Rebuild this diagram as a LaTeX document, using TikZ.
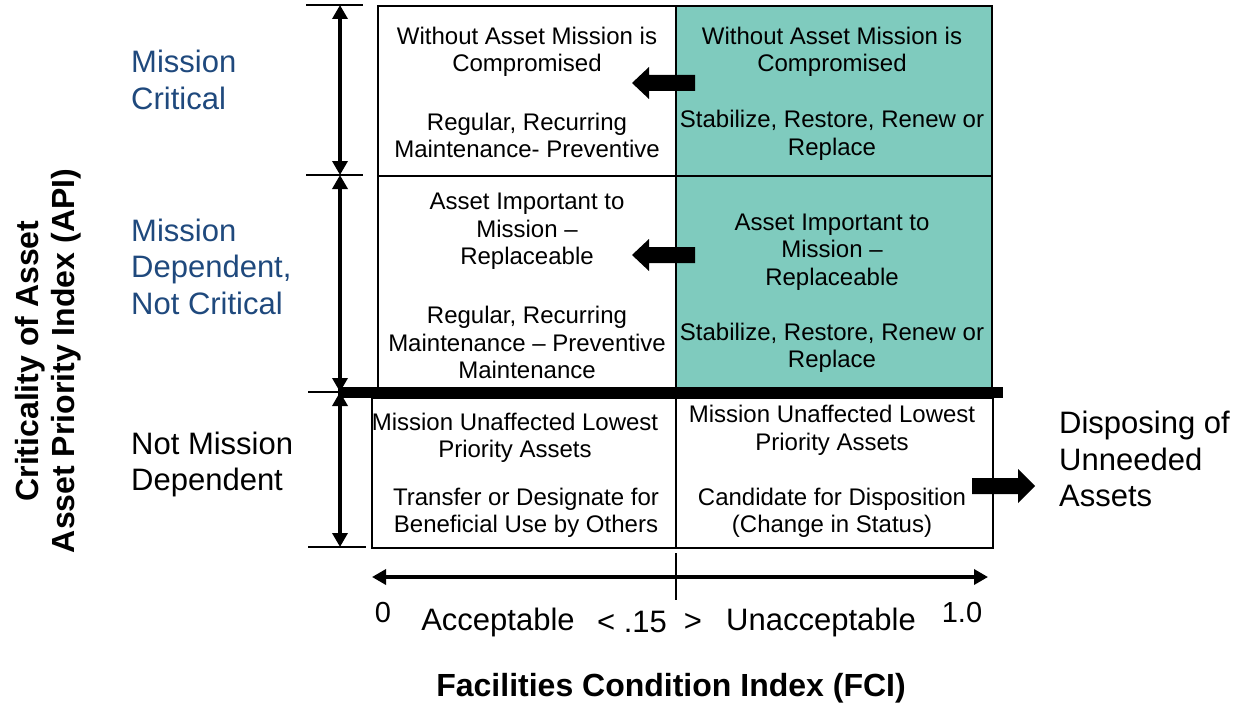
\documentclass[tikz,border=0pt]{standalone}
\usepackage{fontspec}
\setmainfont{Liberation Sans}
\usetikzlibrary{arrows.meta}
\definecolor{teal2}{RGB}{127,203,190}
\definecolor{labblue}{RGB}{31,73,125}
\begin{document}
\begin{tikzpicture}[x=1pt,y=-1pt,
  cell/.style={draw=black,line width=1.6pt,anchor=north west,inner sep=0pt},
  celltext/.style={align=center,inner sep=0pt,font=\fontsize{24}{27.5}\selectfont},
  sidelab/.style={align=left,anchor=west,inner sep=0pt,font=\fontsize{31}{36.5}\selectfont},
  axlab/.style={inner sep=0pt,font=\fontsize{31}{36}\selectfont},
  dimarrow/.style={line width=3.4pt,{Triangle[width=15pt,length=14pt]}-{Triangle[width=15pt,length=14pt]}},
  thin/.style={line width=1.3pt}]
\useasboundingbox (0,0) rectangle (1246,706);

% grid cells
\node[cell,minimum width=298,minimum height=170] (tl) at (377,5) {};
\node[cell,fill=teal2,minimum width=316,minimum height=170] (tr) at (675,5) {};
\node[cell,minimum width=298,minimum height=215] (ml) at (377,175) {};
\node[cell,fill=teal2,minimum width=316,minimum height=215] (mr) at (675,175) {};
\node[cell,minimum width=304,minimum height=150] (bl) at (371,397) {};
\node[cell,minimum width=317,minimum height=150] (br) at (675,397) {};

% heavy divider between mission dependent and not dependent
\coordinate (barL) at (338,392);
\coordinate (barR) at (1003,392);
\draw[line width=11pt] (barL) -- (barR);

% cell texts
\node[celltext] (tlA) at (527,52) {Without Asset Mission is\\Compromised};
\node[celltext] (tlB) at (527,135.5) {Regular, Recurring\\Maintenance- Preventive};
\node[celltext] (trA) at (832,52) {Without Asset Mission is\\Compromised};
\node[celltext] (trB) at (832,135.5) {Stabilize, Restore, Renew or\\Replace};
\node[celltext] (mlA) at (527,231.5) {Asset Important to\\Mission –\\Replaceable};
\node[celltext] (mlB) at (527,342.5) {Regular, Recurring\\Maintenance – Preventive\\Maintenance};
\node[celltext] (mrA) at (832,252) {Asset Important to\\Mission –\\Replaceable};
\node[celltext] (mrB) at (832,348) {Stabilize, Restore, Renew or\\Replace};
\node[celltext] (blA) at (515,438) {Mission Unaffected Lowest\\Priority Assets};
\node[celltext] (blB) at (526,513) {Transfer or Designate for\\Beneficial Use by Others};
\node[celltext] (brA) at (832,430.5) {Mission Unaffected Lowest\\Priority Assets};
\node[celltext] (brB) at (832,513) {Candidate for Disposition\\(Change in Status)};

% block arrows
\fill (695,75) -- (649,75) -- (649,67) -- (632,83) -- (649,99) -- (649,91) -- (695,91) -- cycle;
\fill (695,247) -- (649,247) -- (649,239) -- (632,255) -- (649,271) -- (649,263) -- (695,263) -- cycle;
\fill (972,478) -- (1018,478) -- (1018,469) -- (1035,486) -- (1018,503) -- (1018,494) -- (972,494) -- cycle;

% vertical dimension arrows with end ticks
\coordinate (t0) at (340,5);
\coordinate (t1) at (340,175);
\coordinate (t2) at (340,392);
\coordinate (t3) at (340,547);
\draw[thin] (306,5) -- (363,5);
\draw[thin] (306,175) -- (363,175);
\draw[thin] (308,392) -- (340,392);
\draw[thin] (308,547) -- (366,547);
\draw[dimarrow] (t0) -- (t1);
\draw[dimarrow] (t1) -- (t2);
\draw[dimarrow] (t2) -- (t3);

% horizontal FCI axis
\coordinate (a0) at (372,577);
\coordinate (a1) at (988,577);
\coordinate (m0) at (676,553);
\coordinate (m1) at (676,600);
\draw[dimarrow] (a0) -- (a1);
\draw[thin] (m0) -- (m1);

% row labels
\node[sidelab,text=labblue] (lab1) at (131,80) {Mission\\Critical};
\node[sidelab,text=labblue] (lab2) at (131,266.5) {Mission\\Dependent,\\Not Critical};
\node[sidelab] (lab3) at (131,464.5) {Not Mission\\Dependent};
\node[sidelab] (lab4) at (1059,459) {Disposing of\\Unneeded\\Assets};

% axis labels
\node[axlab,font=\fontsize{29}{32}\selectfont] (z0) at (383,613) {0};
\node[axlab,font=\fontsize{29}{32}\selectfont] (z1) at (962,613) {1.0};
\node[axlab] (acc) at (498,622) {Acceptable};
\node[axlab] (thr) at (632,622) {< .15};
\node[axlab] (gt) at (693,622) {>};
\node[axlab] (unacc) at (821,622) {Unacceptable};
\node[inner sep=0pt,font=\bfseries\fontsize{32}{36}\selectfont] (fci) at (671,688) {Facilities Condition Index (FCI)};
\node[inner sep=0pt,rotate=90,align=center,font=\bfseries\fontsize{32}{36}\selectfont] (api) at (48,361) {Criticality of Asset\\Asset Priority Index (API)};
\end{tikzpicture}
\end{document}
